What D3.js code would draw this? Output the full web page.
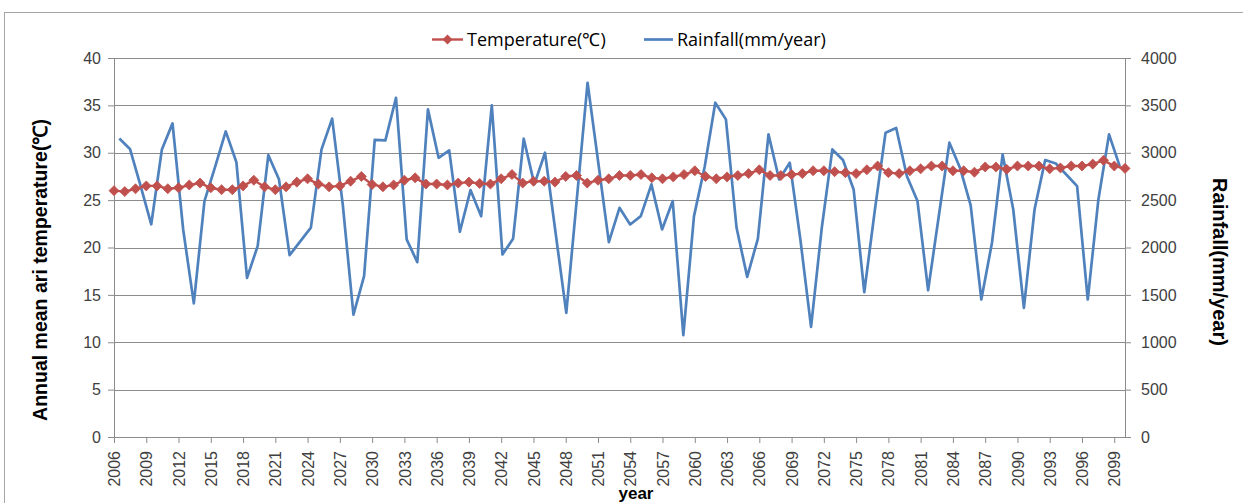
<!DOCTYPE html>
<html><head><meta charset="utf-8">
<script src="https://cdn.jsdelivr.net/npm/d3@7"></script>
<style>body{margin:0;background:#fff;overflow:hidden}svg{display:block}</style>
</head><body>
<svg id="chart" width="1243" height="503"></svg>
<script>
const years = d3.range(2006, 2101);
const temperature = [
26.0,25.9,26.2,26.5,26.5,26.2,26.3,26.6,26.8,26.3,26.1,26.1,26.5,27.1,26.4,26.1,
26.4,26.9,27.25,26.7,26.4,26.5,27.0,27.5,26.65,26.4,26.6,27.1,27.35,26.7,26.7,26.6,
26.8,26.9,26.75,26.7,27.25,27.7,26.8,27.0,27.0,26.9,27.5,27.6,26.8,27.1,27.25,27.6,
27.6,27.7,27.35,27.25,27.45,27.7,28.1,27.5,27.25,27.45,27.6,27.8,28.2,27.6,27.6,27.7,
27.8,28.1,28.1,28.0,27.9,27.8,28.2,28.6,27.9,27.8,28.1,28.3,28.6,28.6,28.1,28.1,
27.95,28.5,28.5,28.25,28.6,28.6,28.6,28.3,28.4,28.6,28.6,28.8,29.2,28.6,28.35];
const rainfall = [
3150,3040,2650,2245,3035,3310,2190,1410,2490,2850,3225,2900,1680,2015,2975,2720,
1920,2065,2210,3035,3360,2450,1292,1697,3135,3130,3580,2085,1845,3458,2947,3025,
2166,2606,2331,3500,1926,2092,3148,2666,3000,2150,1310,2525,3739,2900,2056,2419,
2243,2331,2666,2190,2490,1074,2331,2850,3528,3352,2208,1690,2092,3194,2718,2894,
2080,1162,2200,3035,2923,2613,1528,2400,3211,3261,2754,2490,1549,2330,3106,2840,
2444,1451,2050,2982,2401,1363,2401,2923,2887,2768,2648,1451,2507,3194,2859];
const xTickYears = d3.range(2006, 2100, 3);
const tempTicks = d3.range(0, 41, 5);
const rainTicks = d3.range(0, 4001, 500);

const svg = d3.select("#chart");
const L = 114, R = 1125, T = 58, B = 437;
const font = "'Liberation Sans', Arial, sans-serif";
const legendFont = "'Open Sans', 'Liberation Sans', sans-serif";
const red = "#C0504D", blue = "#4F81BD", grid = "#8c8c8c";

// outer chart frame
svg.append("rect").attr("x", 4.5).attr("y", 12.5).attr("width", 1260).attr("height", 520)
  .attr("fill", "none").attr("stroke", "#a6a6a6").attr("stroke-width", 1);

const xT = d3.scalePoint().domain(years).range([L, R]);
const xR = d3.scalePoint().domain(years).range([L, R]).padding(0.5);
const yL = d3.scaleLinear().domain([0, 40]).range([B, T]);
const yR = d3.scaleLinear().domain([0, 4000]).range([B, T]);

// gridlines
svg.append("g").selectAll("line").data(tempTicks.filter(d => d > 0)).join("line")
  .attr("x1", L).attr("x2", R)
  .attr("y1", d => Math.round(yL(d)) + 0.5).attr("y2", d => Math.round(yL(d)) + 0.5)
  .attr("stroke", grid).attr("stroke-width", 1);

// left axis
const gL = svg.append("g").attr("transform", `translate(${L},0)`)
  .call(d3.axisLeft(yL).tickValues(tempTicks).tickSize(6).tickPadding(7).tickFormat(d3.format("d")));
// right axis
const gR = svg.append("g").attr("transform", `translate(${R},0)`)
  .call(d3.axisRight(yR).tickValues(rainTicks).tickSize(6).tickPadding(10).tickFormat(d3.format("d")));
// bottom axis
const gB = svg.append("g").attr("transform", `translate(0,${B})`)
  .call(d3.axisBottom(xT).tickValues(xTickYears).tickSize(6).tickFormat(d3.format("d")));
gB.selectAll(".tick text")
  .attr("transform", "rotate(-90)").attr("text-anchor", "end")
  .attr("x", -14).attr("y", 0).attr("dy", "0.35em");

[gL, gR, gB].forEach(g => {
  g.select(".domain").attr("stroke", grid);
  g.selectAll(".tick line").attr("stroke", grid);
  g.selectAll("text").attr("font-family", font).attr("font-size", 16).attr("fill", "#404040");
});
gB.select(".domain").attr("d", `M${L},0.5H${R}`);

// rainfall line
svg.append("path").datum(rainfall)
  .attr("fill", "none").attr("stroke", blue).attr("stroke-width", 2.7).attr("stroke-linejoin", "round")
  .attr("d", d3.line().x((d, i) => xR(years[i])).y(d => yR(d)));

// temperature line + diamonds
svg.append("path").datum(temperature)
  .attr("fill", "none").attr("stroke", red).attr("stroke-width", 2.4)
  .attr("d", d3.line().x((d, i) => xT(years[i])).y(d => yL(d)));
svg.append("g").selectAll("path").data(temperature).join("path")
  .attr("transform", (d, i) => `translate(${xT(years[i])},${yL(d)})`)
  .attr("d", d3.symbol(d3.symbolDiamond2, 64)())
  .attr("fill", red).attr("stroke", red).attr("stroke-width", 0.8);

// axis titles
svg.append("text").attr("transform", `translate(47,270) rotate(-90)`)
  .attr("text-anchor", "middle").attr("font-family", font).attr("font-size", 19.5)
  .attr("font-weight", "bold").attr("fill", "#000").text("Annual mean ari temperature(℃)");
svg.append("text").attr("transform", `translate(1213,262) rotate(90)`)
  .attr("text-anchor", "middle").attr("font-family", font).attr("font-size", 20)
  .attr("font-weight", "bold").attr("fill", "#000").text("Rainfall(mm/year)");
svg.append("text").attr("x", 636).attr("y", 499).attr("text-anchor", "middle")
  .attr("font-family", font).attr("font-size", 17).attr("font-weight", "bold")
  .attr("fill", "#000").text("year");

// legend
const lg = svg.append("g");
lg.append("line").attr("x1", 432).attr("x2", 463).attr("y1", 39.5).attr("y2", 39.5)
  .attr("stroke", red).attr("stroke-width", 2.4);
lg.append("path").attr("transform", "translate(447.5,39.5)")
  .attr("d", d3.symbol(d3.symbolDiamond2, 64)()).attr("fill", red);
lg.append("text").attr("x", 467).attr("y", 46).attr("font-family", legendFont).attr("font-size", 18)
  .attr("fill", "#000").text("Temperature(℃)");
lg.append("line").attr("x1", 644).attr("x2", 673).attr("y1", 39.5).attr("y2", 39.5)
  .attr("stroke", blue).attr("stroke-width", 2.7);
lg.append("text").attr("x", 677).attr("y", 46).attr("font-family", legendFont).attr("font-size", 18)
  .attr("fill", "#000").text("Rainfall(mm/year)");
</script>
</body></html>
